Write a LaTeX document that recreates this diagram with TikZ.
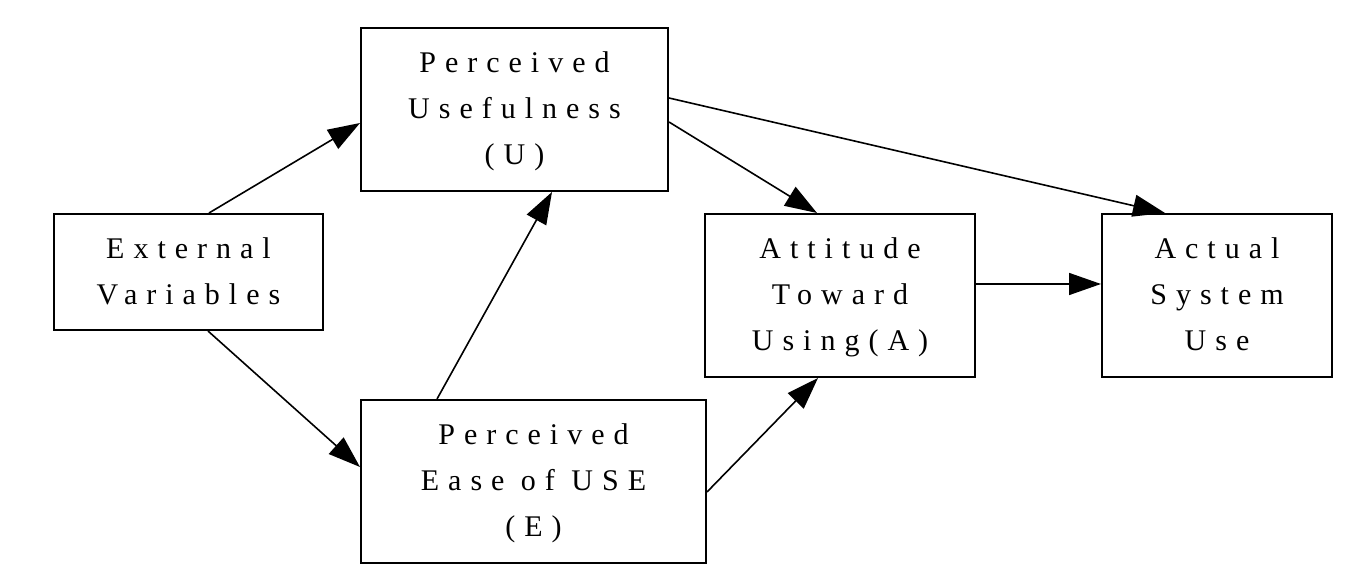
\documentclass[tikz,border=0pt]{standalone}
\usepackage{fontspec}
\setmainfont{Liberation Serif}[LetterSpace=30]
\usepackage{tikz}
\usetikzlibrary{arrows.meta, calc}
% box text, set a little below the middle as in the drawing
\newcommand{\tamlines}[1]{\raisebox{-3pt}{\begin{tabular}{@{}c@{}}#1\end{tabular}}}

\begin{document}
\begin{tikzpicture}[x=0.5pt, y=-0.5pt,
  every node/.style={font=\fontsize{15}{23}\selectfont},
  tambox/.style={draw, line width=1pt, inner sep=0pt},
  link/.style={line width=0.8pt, -{Triangle[length=16pt, width=11pt]}}]
  \useasboundingbox (0,0) rectangle (1362,588);
  % boxes
  \node[tambox, minimum width=134.5pt, minimum height=58pt] (ext) at (188.5,272) {\tamlines{External\\Variables}};
  \node[tambox, minimum width=153.5pt, minimum height=81.5pt] (pu) at (514.5,109.5) {\tamlines{Perceived\\Usefulness\\(U)}};
  \node[tambox, minimum width=172.5pt, minimum height=81.5pt] (pe) at (533.5,481.5) {\tamlines{Perceived\\Ease of USE\\(E)}};
  \node[tambox, minimum width=135pt, minimum height=81.5pt] (att) at (840,295.5) {\tamlines{Attitude\\Toward\\Using(A)}};
  \node[tambox, minimum width=115pt, minimum height=81.5pt] (act) at (1217,295.5) {\tamlines{Actual\\System\\Use}};
  % arrows
  \draw[link] ($(ext.north)+(20.5,0)$) -- ($(pu.west)+(0,13.5)$);
  \draw[link] ($(ext.south)+(19.5,0)$) -- ($(pe.west)+(0,-14.5)$);
  \draw[link] ($(pe.north)+(-96.5,0)$) -- ($(pu.south)+(37.5,0)$);
  \draw[link] ($(pu.east)+(0,12.5)$) -- ($(att.north)+(-23,0)$);
  \draw[link] ($(pu.east)+(0,-11.5)$) -- ($(act.north)+(-52,0)$);
  \draw[link] ($(pe.east)+(0,10.5)$) -- ($(att.south)+(-22,0)$);
  \draw[link] ($(att.east)+(0,-11.5)$) -- ($(act.west)+(0,-11.5)$);
\end{tikzpicture}
\end{document}
